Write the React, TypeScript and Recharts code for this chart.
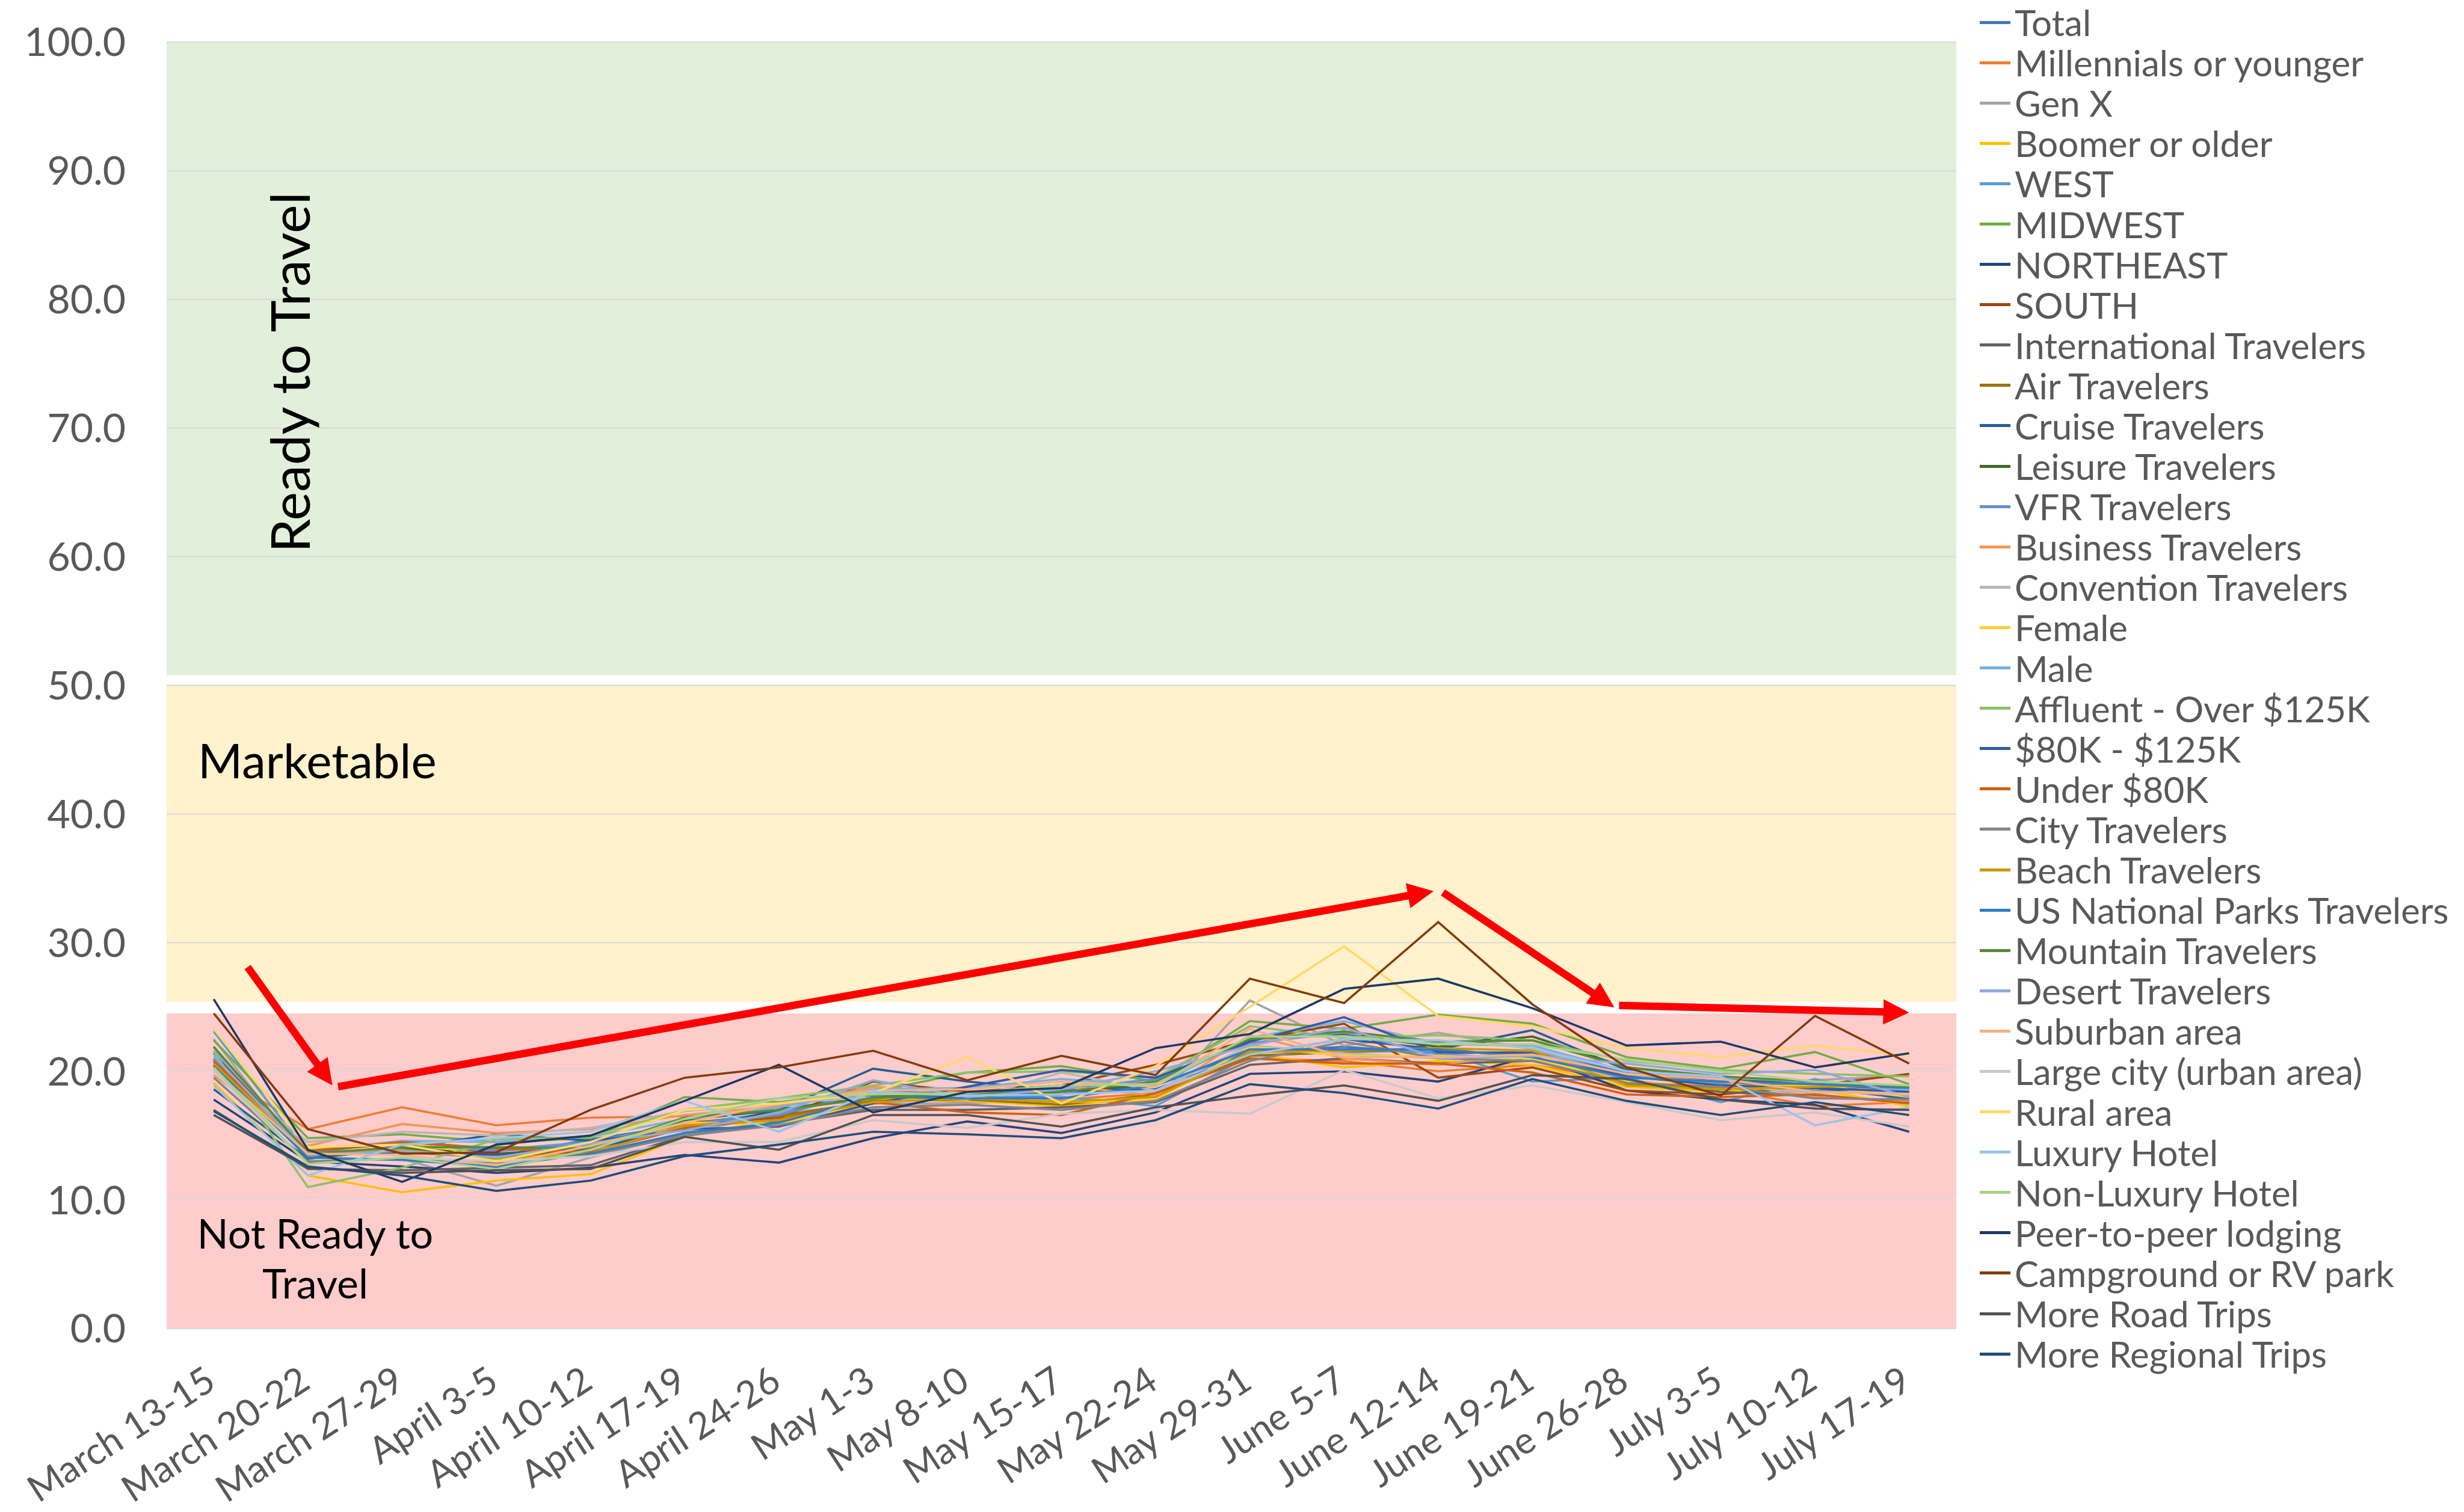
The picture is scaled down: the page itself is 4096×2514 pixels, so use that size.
import React from 'react';
import { LineChart, Line, XAxis, YAxis, ReferenceArea, ReferenceLine, Legend } from 'recharts';

const categories = ["March 13-15", "March 20-22", "March 27-29", "April 3-5", "April 10-12", "April 17-19", "April 24-26", "May 1-3", "May 8-10", "May 15-17", "May 22-24", "May 29-31", "June 5-7", "June 12-14", "June 19-21", "June 26-28", "July 3-5", "July 10-12", "July 17-19"];

const seriesNames = ["Total", "Millennials or younger", "Gen X", "Boomer or older", "WEST", "MIDWEST", "NORTHEAST", "SOUTH", "International Travelers", "Air Travelers", "Cruise Travelers", "Leisure Travelers", "VFR Travelers", "Business Travelers", "Convention Travelers", "Female", "Male", "Affluent - Over $125K", "$80K - $125K", "Under $80K", "City Travelers", "Beach Travelers", "US National Parks Travelers", "Mountain Travelers", "Desert Travelers", "Suburban area", "Large city (urban area)", "Rural area", "Luxury Hotel", "Non-Luxury Hotel", "Peer-to-peer lodging", "Campground or RV park", "More Road Trips", "More Regional Trips"];

const seriesColors = ["#4472C4", "#ED7D31", "#A5A5A5", "#FFC000", "#5B9BD5", "#70AD47", "#264478", "#9E480E", "#636363", "#997300", "#255E91", "#43682B", "#698ED0", "#F1975A", "#B7B7B7", "#FFCD33", "#7CAFDD", "#8CC168", "#335AA1", "#D26012", "#848484", "#CC9A00", "#327DC2", "#5A8A39", "#8FAADC", "#F4B183", "#C9C9C9", "#FFD966", "#9DC3E6", "#A9D18E", "#203864", "#843C0C", "#525252", "#1F4E79"];

const total = [20.7, 13.3, 13.9, 13.4, 14.7, 15.8, 16.1, 17.9, 17.9, 18.2, 18.9, 21.5, 21.9, 21.4, 21.5, 19.9, 19.2, 19.0, 18.5];
const millennials = [20.0, 15.5, 17.2, 15.8, 16.4, 16.5, 16.9, 18.0, 17.6, 17.8, 18.3, 21.0, 20.8, 20.0, 20.5, 19.3, 18.6, 17.3, 17.6];
const genX = [22.5, 13.0, 13.2, 11.1, 13.3, 15.2, 16.7, 17.5, 17.5, 17.9, 17.6, 25.5, 22.0, 23.0, 21.7, 19.6, 19.0, 19.3, 19.7];
const boomer = [19.1, 11.9, 10.6, 11.5, 12.0, 14.9, 16.3, 17.8, 17.7, 17.3, 18.0, 21.4, 20.3, 20.8, 20.5, 18.8, 18.4, 18.6, 17.3];
const west = [23.1, 13.6, 14.6, 13.9, 14.5, 15.9, 16.8, 18.4, 17.9, 18.0, 17.3, 21.2, 21.5, 21.6, 19.2, 19.5, 17.6, 19.4, 17.6];
const midwest = [22.4, 14.8, 15.1, 14.5, 14.8, 18.0, 17.6, 18.4, 19.9, 20.4, 19.2, 23.9, 23.3, 24.4, 23.7, 21.1, 20.2, 21.5, 19.0];
const northeast = [17.8, 13.0, 12.6, 12.1, 12.5, 13.5, 12.9, 14.8, 16.1, 15.2, 16.8, 19.8, 20.0, 19.2, 21.2, 18.5, 17.8, 17.4, 15.3];
const south = [21.4, 13.8, 14.4, 13.6, 13.7, 15.6, 16.4, 19.2, 18.4, 18.9, 20.5, 22.4, 23.7, 19.5, 20.3, 18.5, 18.2, 18.9, 19.8];
const international = [17.0, 12.4, 12.3, 12.5, 12.7, 15.0, 15.9, 17.0, 17.0, 17.2, 17.6, 20.5, 21.0, 20.6, 20.8, 19.3, 18.4, 18.1, 17.6];
const air = [20.9, 13.6, 13.7, 13.3, 13.9, 16.0, 16.5, 17.7, 17.8, 17.4, 18.2, 21.2, 21.5, 21.8, 21.0, 19.0, 18.7, 19.0, 18.8];
const cruise = [18.6, 13.2, 14.0, 15.1, 14.6, 15.4, 17.0, 20.2, 19.2, 18.5, 18.6, 21.3, 22.5, 21.7, 23.2, 20.1, 19.1, 18.7, 17.9];
const leisure = [21.9, 13.2, 14.0, 13.6, 14.0, 16.2, 17.0, 18.1, 18.0, 18.4, 19.0, 22.5, 22.9, 21.9, 22.7, 20.3, 19.5, 18.9, 18.7];
const vfr = [21.0, 13.4, 14.2, 13.8, 14.3, 15.9, 16.6, 18.5, 18.2, 18.6, 19.4, 22.2, 23.0, 21.3, 21.0, 19.8, 19.1, 18.5, 18.1];
const business = [19.7, 14.2, 15.9, 15.2, 15.5, 16.6, 17.3, 18.8, 18.3, 18.9, 18.1, 22.8, 21.0, 20.5, 21.4, 19.6, 19.2, 18.0, 17.7];
const convention = [20.2, 14.5, 15.3, 15.0, 15.6, 16.9, 17.5, 18.0, 17.8, 19.9, 18.5, 22.0, 21.4, 21.0, 21.0, 19.7, 18.9, 18.3, 18.6];
const female = [20.4, 13.9, 14.5, 13.4, 14.1, 16.0, 15.9, 17.6, 18.0, 17.6, 17.8, 21.9, 21.2, 21.2, 21.0, 19.2, 18.8, 18.9, 18.0];
const male = [21.6, 13.8, 14.6, 14.5, 14.9, 16.3, 17.2, 18.6, 18.7, 19.4, 18.9, 22.6, 23.9, 22.1, 22.0, 20.0, 19.5, 19.2, 18.5];
const affluent = [21.5, 11.0, 12.5, 14.7, 14.9, 17.0, 17.9, 18.9, 19.9, 20.0, 19.5, 23.5, 22.6, 22.8, 22.4, 20.8, 20.1, 19.8, 19.6];
const income80to125 = [20.5, 13.5, 13.7, 13.5, 14.0, 15.5, 15.7, 17.5, 18.8, 20.1, 19.5, 22.3, 24.2, 21.5, 21.4, 19.6, 18.9, 18.7, 18.4];
const under80 = [20.8, 13.8, 14.5, 14.0, 13.7, 15.6, 16.3, 17.6, 16.8, 16.6, 18.3, 21.0, 20.6, 20.6, 19.9, 18.2, 18.0, 18.2, 17.5];
const city = [19.5, 13.0, 13.2, 12.9, 13.5, 15.0, 15.8, 17.2, 17.4, 17.0, 17.7, 20.8, 22.3, 21.0, 20.8, 19.1, 18.8, 17.9, 17.8];
const beach = [20.6, 13.5, 13.9, 13.2, 13.6, 15.8, 16.2, 17.6, 17.9, 17.6, 18.0, 21.5, 21.6, 21.8, 21.6, 18.9, 18.6, 18.8, 18.9];
const nationalParks = [20.4, 13.3, 13.1, 12.6, 13.6, 15.2, 16.0, 18.0, 17.9, 17.9, 18.9, 21.7, 21.7, 21.7, 21.1, 19.5, 19.2, 19.0, 18.7];
const mountain = [21.9, 13.6, 14.1, 14.1, 14.0, 16.4, 17.0, 17.9, 18.3, 18.4, 19.2, 22.5, 23.1, 22.3, 22.4, 20.3, 19.6, 19.2, 18.8];
const desert = [21.2, 13.5, 13.8, 13.3, 14.4, 15.4, 16.8, 19.3, 18.0, 18.6, 20.0, 22.0, 23.4, 21.0, 21.2, 20.6, 19.8, 20.1, 18.0];
const suburban = [20.1, 13.6, 13.5, 12.7, 14.2, 16.0, 17.5, 18.5, 18.6, 19.2, 18.8, 23.3, 21.1, 21.1, 21.3, 19.8, 19.4, 18.4, 18.2];
const largeCity = [20.0, 12.8, 13.3, 13.0, 13.4, 14.5, 14.5, 16.2, 15.6, 16.7, 17.0, 16.7, 20.1, 17.9, 18.9, 17.6, 16.2, 16.8, 15.7];
const rural = [23.3, 14.1, 14.3, 13.0, 14.5, 17.0, 17.5, 18.3, 21.1, 17.5, 20.4, 25.0, 29.7, 24.3, 23.5, 21.8, 21.1, 22.0, 21.2];
const luxury = [18.9, 11.9, 14.3, 14.8, 15.3, 17.7, 15.3, 18.4, 18.1, 18.2, 18.5, 21.3, 22.5, 22.4, 21.8, 20.0, 19.6, 15.8, 17.2];
const nonLuxury = [20.3, 12.8, 13.3, 12.4, 13.9, 16.3, 17.9, 18.2, 18.3, 18.9, 19.0, 22.7, 22.7, 22.1, 22.1, 20.9, 20.0, 19.2, 18.9];
const peerToPeer = [25.6, 13.9, 11.4, 14.3, 15.0, 17.7, 20.5, 16.8, 18.4, 18.7, 21.8, 22.9, 26.4, 27.2, 24.9, 22.0, 22.3, 20.3, 21.4];
const campground = [24.5, 15.5, 13.6, 13.7, 17.0, 19.5, 20.3, 21.6, 19.3, 21.2, 19.7, 27.2, 25.3, 31.6, 25.2, 20.3, 18.1, 24.3, 20.6];
const roadTrips = [16.6, 12.5, 12.1, 12.3, 12.4, 14.9, 13.9, 16.6, 16.6, 15.7, 17.2, 18.1, 18.9, 17.7, 19.7, 19.4, 17.8, 17.1, 17.0];
const regionalTrips = [16.9, 12.6, 11.9, 10.7, 11.5, 13.4, 14.3, 15.3, 15.1, 14.8, 16.2, 19.0, 18.3, 17.1, 19.4, 17.7, 16.6, 17.6, 16.6];

const seriesValues = [total, millennials, genX, boomer, west, midwest, northeast, south, international, air, cruise, leisure, vfr, business, convention, female, male, affluent, income80to125, under80, city, beach, nationalParks, mountain, desert, suburban, largeCity, rural, luxury, nonLuxury, peerToPeer, campground, roadTrips, regionalTrips];

const yTicks = [0, 10, 20, 30, 40, 50, 60, 70, 80, 90, 100];
const bandRanges = [[50.8, 100], [25.4, 50], [0, 24.5]];
const bandColors = ["#E2EFDA", "#FFF2CC", "#FFCCCC"];

// annotation arrows, in data coordinates (category index, value)
const arrowSegments = [
  [{ x: 0.36, y: 28.1 }, { x: 1.26, y: 18.9 }],
  [{ x: 1.32, y: 18.8 }, { x: 12.95, y: 34.0 }],
  [{ x: 13.05, y: 33.9 }, { x: 14.87, y: 24.96 }],
  [{ x: 14.92, y: 25.12 }, { x: 18.0, y: 24.57 }],
];

const data = categories.map((c, i) => {
  const row: any = { i };
  seriesValues.forEach((vals, k) => { row['s' + k] = vals[i]; });
  return row;
});

const FONT = 'Lato, "Noto Sans", sans-serif';
const W = 4096;
const H = 2514;

const ArrowShape = (props: any) => {
  const { x1, y1, x2, y2 } = props;
  const dx = x2 - x1, dy = y2 - y1;
  const len = Math.hypot(dx, dy) || 1;
  const ux = dx / len, uy = dy / len;
  const headLen = 43, headHalf = 21, w = 12.5;
  const bx = x2 - ux * headLen, by = y2 - uy * headLen;
  const px = -uy, py = ux;
  return (
    <g>
      <line x1={x1} y1={y1} x2={bx + ux * 3} y2={by + uy * 3} stroke="#FF0000" strokeWidth={w} />
      <polygon points={`${x2},${y2} ${bx + px * headHalf},${by + py * headHalf} ${bx - px * headHalf},${by - py * headHalf}`} fill="#FF0000" />
    </g>
  );
};

const XTick = (props: any) => {
  const { x, y, payload } = props;
  const ax = x + 7;
  const ay = y + 97;
  return (
    <text x={ax} y={ay} textAnchor="end" fill="#595959" fontFamily={FONT} fontSize={62} transform={`rotate(-33, ${ax}, ${ay})`}>
      {categories[payload.value]}
    </text>
  );
};

const renderLegend = () => (
  <div style={{ fontFamily: FONT, fontSize: 60, color: '#595959' }}>
    {seriesNames.map((n, k) => (
      <div key={n} style={{ height: 67.1, display: 'flex', alignItems: 'center', whiteSpace: 'nowrap' }}>
        <span style={{ display: 'inline-block', width: 51, height: 5, background: seriesColors[k], marginRight: 7 }} />
        <span style={{ lineHeight: 1 }}>{n}</span>
      </div>
    ))}
  </div>
);

export default function App() {
  return (
    <div style={{ position: 'absolute', left: 0, top: 0, width: W, height: H, background: '#fff', overflow: 'hidden' }}>
      <LineChart width={W} height={H} data={data} margin={{ top: 70, right: 844, left: 0, bottom: 0 }}>
        <XAxis dataKey="i" type="number" domain={[-0.5, 18.5]} ticks={categories.map((c, i) => i)} interval={0}
          height={305} tickSize={0} tickMargin={0} tickLine={false} axisLine={false} tick={<XTick />} allowDataOverflow />
        <YAxis type="number" domain={[0, 100]} ticks={yTicks} interval={0} width={277} tickSize={0} tickMargin={68}
          tickLine={false} axisLine={false} tickFormatter={(v: number) => v.toFixed(1)}
          tick={{ fill: '#595959', fontFamily: FONT, fontSize: 66 }} />
        {bandRanges.map((b, k) => (
          <ReferenceArea key={'b' + k} x1={-0.5} x2={18.5} y1={b[0]} y2={b[1]} fill={bandColors[k]} fillOpacity={1} stroke="none" ifOverflow="visible" />
        ))}
        {yTicks.map((t) => (
          <ReferenceLine key={'g' + t} y={t} stroke="#D9D9D9" strokeWidth={2} ifOverflow="visible" />
        ))}
        {seriesNames.map((n, k) => (
          <Line key={n} type="linear" dataKey={'s' + k} name={n} stroke={seriesColors[k]} strokeWidth={3.6}
            dot={false} activeDot={false} isAnimationActive={false} />
        ))}
        {arrowSegments.map((s, k) => (
          <ReferenceLine key={'a' + k} segment={s} shape={ArrowShape} ifOverflow="visible" />
        ))}
        <Legend layout="horizontal" verticalAlign="middle" align="center" content={renderLegend}
          wrapperStyle={{ position: 'absolute', left: 3291, top: 3.5, width: 805, right: 'auto', bottom: 'auto' }} />
      </LineChart>
      <svg width={W} height={H} style={{ position: 'absolute', left: 0, top: 0, pointerEvents: 'none' }}>
        <text x={515} y={619} transform="rotate(-90, 515, 619)" textAnchor="middle" fontFamily={FONT} fontSize={90} fill="#000">Ready to Travel</text>
        <text x={329} y={1294} textAnchor="start" fontFamily={FONT} fontSize={80} fill="#000">Marketable</text>
        <text x={524} y={2076} textAnchor="middle" fontFamily={FONT} fontSize={68} fill="#000">Not Ready to</text>
        <text x={524} y={2159} textAnchor="middle" fontFamily={FONT} fontSize={68} fill="#000">Travel</text>
      </svg>
    </div>
  );
}
